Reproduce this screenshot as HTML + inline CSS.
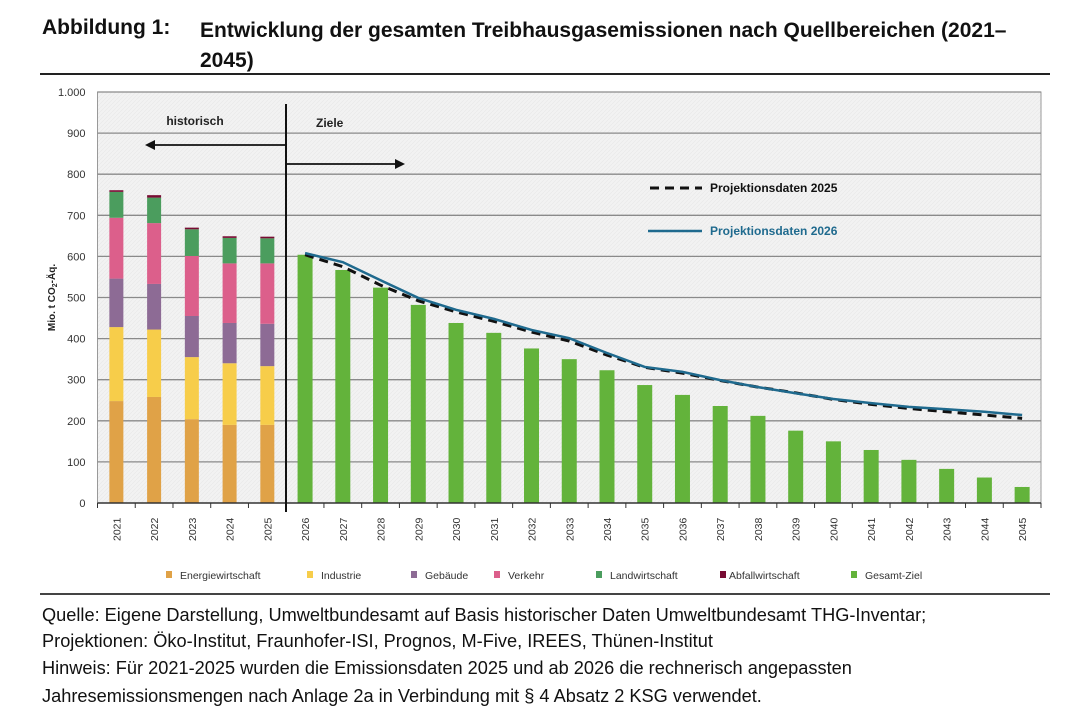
<!DOCTYPE html>
<html><head><meta charset="utf-8"><style>
body{margin:0;background:#fff;width:1080px;height:726px;overflow:hidden;font-family:"Liberation Sans",sans-serif;}
.t{position:absolute;font-weight:bold;font-size:21px;color:#111;}
.f{position:absolute;left:42px;font-size:18.2px;color:#111;white-space:nowrap;}
</style></head><body>
<div class="t" style="left:42px;top:16px">Abbildung 1:</div>
<div class="t" style="left:200px;top:16px;line-height:30px;width:860px">Entwicklung der gesamten Treibhausgasemissionen nach Quellbereichen (2021–<br>2045)</div>
<div style="position:absolute;left:40px;top:73px;width:1010px;height:2px;background:#222"></div>
<svg id="chart" width="1080" height="600" style="position:absolute;left:0;top:0"></svg>
<div style="position:absolute;left:40px;top:593px;width:1010px;height:2px;background:#444"></div>
<div class="f" style="top:605px">Quelle: Eigene Darstellung, Umweltbundesamt auf Basis historischer Daten Umweltbundesamt THG-Inventar;</div>
<div class="f" style="top:631px">Projektionen: Öko-Institut, Fraunhofer-ISI, Prognos, M-Five, IREES, Thünen-Institut</div>
<div class="f" style="top:658px">Hinweis: Für 2021-2025 wurden die Emissionsdaten 2025 und ab 2026 die rechnerisch angepassten</div>
<div class="f" style="top:686px">Jahresemissionsmengen nach Anlage 2a in Verbindung mit § 4 Absatz 2 KSG verwendet.</div>
<script>
const years=[2021,2022,2023,2024,2025,2026,2027,2028,2029,2030,2031,2032,2033,2034,2035,2036,2037,2038,2039,2040,2041,2042,2043,2044,2045];
const yTicks=[0,100,200,300,400,500,600,700,800,900,1000];
const yTickLabels=["0","100","200","300","400","500","600","700","800","900","1.000"];
const energie=[248,258,204,190,190];
const industrie=[180,164,151,150,143];
const gebaeude=[118,111,100,98,103];
const verkehr=[148,148,146,145,147];
const landwirtschaft=[63,62,65,62,61];
const abfall=[4,6,4,4,4];
const gesamtZiel=[604,567,524,482,438,414,376,350,323,287,263,236,212,176,150,129,105,83,62,39];
const proj2025=[604,575,530,492,465,442,416,394,360,330,316,298,282,268,252,240,230,222,214,206];
const proj2026=[608,586,542,499,470,448,421,401,365,331,319,299,282,267,253,243,234,228,222,214];
const seriesNames=["Energiewirtschaft","Industrie","Gebäude","Verkehr","Landwirtschaft","Abfallwirtschaft","Gesamt-Ziel"];
const colors=["#e0a247","#f7cd4a","#8d6b95","#dc5f8b","#4b9d5e","#780c33","#63b33b"];
const ns="http://www.w3.org/2000/svg";
const svg=document.getElementById('chart');
const L=97.5,R=1041,T=92,B=503;
const step=(R-L)/years.length;
const xc=i=>L+step*(i+0.5);
const y=v=>B-(v/1000)*(B-T);
function mk(tag,attrs,parent){const e=document.createElementNS(ns,tag);for(const k in attrs)e.setAttribute(k,attrs[k]);(parent||svg).appendChild(e);return e;}
const defs=mk('defs',{});
const pat=mk('pattern',{id:'hatch',width:4,height:4,patternUnits:'userSpaceOnUse'},defs);
mk('rect',{width:4,height:4,fill:'#f2f2f2'},pat);
mk('path',{d:'M0,4 L4,0',stroke:'#e8e8e8','stroke-width':0.6},pat);
let bg=mk('rect',{x:L,y:T,width:R-L,height:B-T,fill:'url(#hatch)',stroke:'#999','stroke-width':1});


yTicks.forEach((v,i)=>{
 if(v>0){let g=mk('line',{x1:L,x2:R,y1:y(v),y2:y(v),stroke:'#8a8a8a','stroke-width':1.3});
 
 }
 let t=mk('text',{x:L-12,y:y(v)+4,'text-anchor':'end','font-size':11,fill:'#333'});
 t.textContent=yTickLabels[i];
 
 
});
let yt=mk('text',{transform:`translate(55,${(T+B)/2}) rotate(-90)`,'text-anchor':'middle','font-size':10,'font-weight':'bold',fill:'#222'});
yt.innerHTML='Mio. t CO<tspan font-size="7" dy="2">2</tspan><tspan dy="-2">-Äq.</tspan>';


const stacks=[energie,industrie,gebaeude,verkehr,landwirtschaft,abfall];
for(let i=0;i<5;i++){let base=0;
 stacks.forEach((s,k)=>{let r=mk('rect',{x:xc(i)-7,y:y(base+s[i]),width:14,height:y(base)-y(base+s[i]),fill:colors[k]});
 
 
 base+=s[i];});}
gesamtZiel.forEach((v,j)=>{const i=j+5;let r=mk('rect',{x:xc(i)-7.5,y:y(v),width:15,height:y(0)-y(v),fill:colors[6]});
 
 });
let ax=mk('line',{x1:L,x2:R,y1:B,y2:B,stroke:'#333','stroke-width':1.5});


for(let i=0;i<=years.length;i++){mk('line',{x1:L+step*i,x2:L+step*i,y1:B,y2:B+5,stroke:'#333'});}
years.forEach((yr,i)=>{let t=mk('text',{transform:`translate(${xc(i)+4},${B+38}) rotate(-90)`,'font-size':10.5,fill:'#333'});
 t.textContent=yr;
 
 });
const pts=a=>a.map((v,j)=>`${xc(j+5)},${y(v)}`).join(' ');
let l1=mk('polyline',{points:pts(proj2025),fill:'none',stroke:'#111','stroke-width':3,'stroke-dasharray':'9,6'});


let l2=mk('polyline',{points:pts(proj2026),fill:'none',stroke:'#1f6a8e','stroke-width':2.5});


let dv=mk('line',{x1:286,x2:286,y1:104,y2:512,stroke:'#111','stroke-width':2});


mk('line',{x1:286,x2:152,y1:145,y2:145,stroke:'#111','stroke-width':1.8});
mk('path',{d:'M145,145 L155,140 L155,150Z',fill:'#111'});
mk('line',{x1:286,x2:398,y1:164,y2:164,stroke:'#111','stroke-width':1.8});
mk('path',{d:'M405,164 L395,159 L395,169Z',fill:'#111'});
let h=mk('text',{x:195,y:125,'text-anchor':'middle','font-size':12,'font-weight':'bold',fill:'#222'});h.textContent='historisch';


let z=mk('text',{x:316,y:127,'font-size':12,'font-weight':'bold',fill:'#222'});z.textContent='Ziele';


mk('line',{x1:650,x2:702,y1:188,y2:188,stroke:'#111','stroke-width':3,'stroke-dasharray':'9,6'});
let lt1=mk('text',{x:710,y:192,'font-size':12,'font-weight':'bold',fill:'#111'});lt1.textContent='Projektionsdaten 2025';


mk('line',{x1:648,x2:702,y1:231,y2:231,stroke:'#1f6a8e','stroke-width':2.5});
let lt2=mk('text',{x:710,y:235,'font-size':12,'font-weight':'bold',fill:'#1f6a8e'});lt2.textContent='Projektionsdaten 2026';


const lx=[166,307,411,494,596,720,851];
seriesNames.forEach((n,k)=>{mk('rect',{x:lx[k],y:571,width:6,height:7,fill:colors[k]});
 let t=mk('text',{x:lx[k]+(k==5?9:14),y:579,'font-size':10.5,fill:'#333'});t.textContent=n;
 
 });
</script>
</body></html>
